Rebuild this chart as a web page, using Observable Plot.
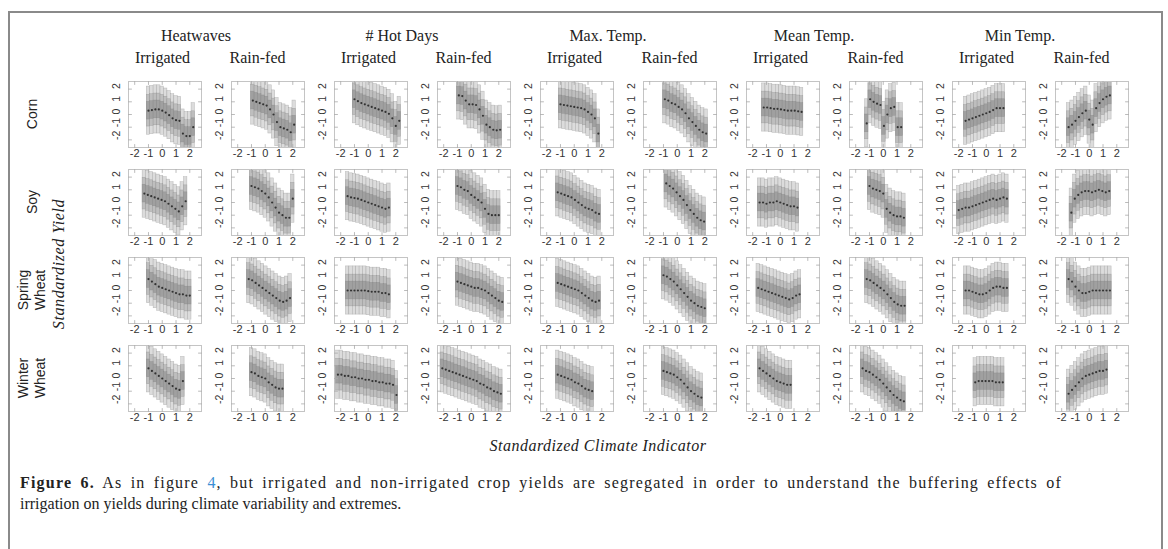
<!DOCTYPE html>
<html><head><meta charset="utf-8">
<script src="https://cdn.jsdelivr.net/npm/d3@7"></script>
<script src="https://cdn.jsdelivr.net/npm/@observablehq/plot@0.6"></script>
<style>
body{margin:0;background:#fff;}
#fig{position:relative;width:1168px;height:549px;overflow:hidden;background:#fff;}
#border{position:absolute;left:8px;top:11px;width:1155px;height:600px;border:2px solid #8a8a8a;border-bottom:none;box-sizing:border-box;}
.lab{position:absolute;white-space:nowrap;transform:translate(-50%,-50%);}
.serif{font-family:"Liberation Serif","DejaVu Serif",serif;color:#222;}
.sans{font-family:"Liberation Sans",Arial,sans-serif;color:#222;}
.rot{transform:translate(-50%,-50%) rotate(-90deg);text-align:center;}
#caption{position:absolute;left:20px;top:472px;width:1042px;font-family:"Liberation Serif",serif;font-size:16px;line-height:21px;color:#222;}
#caption .l1{text-align:justify;text-align-last:justify;white-space:nowrap;letter-spacing:1.2px;}
#caption a{color:#3b8fd4;text-decoration:none;}
#chart{position:absolute;left:0;top:0;}
</style></head>
<body><div id="fig"><div id="border"></div><div id="chart"></div></div>
<script>
const crops = ["Corn", "Soy", "Spring\nWheat", "Winter\nWheat"];
const indicators = ["Heatwaves", "# Hot Days", "Max. Temp.", "Mean Temp.", "Min Temp."];
const irrigationTypes = ["Irrigated", "Rain-fed"];
const axisTicks = [-2, -1, 0, 1, 2];
const binWidth = 0.25;
// half-widths of the nested ranges around each bin median (outer, middle, inner)
const bandHalfWidths = [1.9, 1.25, 0.7];

// first bin centre for each panel (10 panels per crop: indicator x irrigation)
const cornStart   = [-1.0, -0.9, -1.0, -0.9, -1.0, -0.9, -1.2, -1.2, -1.5, -1.5];
const soyStart    = [-1.3, -1.0, -1.5, -1.0, -1.2, -0.8, -1.5, -1.0, -2.0, -1.3];
const springStart = [-1.0, -1.2, -1.5, -1.0, -1.2, -1.0, -1.6, -1.2, -1.5, -1.5];
const winterStart = [-1.0, -1.0, -2.2, -2.1, -1.2, -1.0, -1.5, -1.5, -0.8, -1.5];

// bin medians of standardized yield
const cornMedian = [
  [0.3,0.35,0.4,0.4,0.3,0.15,-0.05,-0.3,-0.45,-0.5,-1.5,-1.7,-1.7,-1.0],
  [1.1,1.0,0.9,0.8,0.7,0.4,0.0,-0.6,-1.0,-1.1,-1.2,-1.4,-0.8],
  [1.2,1.05,0.9,0.8,0.7,0.6,0.5,0.4,0.3,0.2,0.05,-0.3,-0.9,-0.5],
  [1.5,1.45,1.1,0.8,0.8,0.75,0.4,-0.1,-0.8,-1.0,-1.2,-1.25,-1.2],
  [0.8,0.75,0.7,0.65,0.6,0.55,0.5,0.4,0.2,0.0,-0.3,-1.5],
  [1.2,1.1,0.9,0.8,0.6,0.4,0.1,-0.3,-0.6,-0.9,-1.2,-1.4,-1.5],
  [0.55,0.55,0.5,0.45,0.45,0.4,0.35,0.3,0.3,0.3,0.25,0.2],
  [-0.7,1.2,1.0,0.85,0.75,-0.9,0.0,0.5,0.6,-1.0,-1.0],
  [-0.5,-0.4,-0.3,-0.2,-0.1,0.0,0.1,0.2,0.35,0.5,0.5,0.5],
  [-1.0,-0.8,-0.5,-0.2,0.1,0.3,-0.4,-0.8,0.5,0.9,1.2,1.4,1.5]
];
const soyMedian = [
  [0.7,0.6,0.5,0.4,0.3,0.2,0.1,-0.1,-0.3,-0.5,-0.7,-0.3,0.1],
  [1.3,1.2,1.1,0.9,0.7,0.4,0.0,-0.4,-0.8,-1.0,-1.2,-1.2,0.3],
  [0.5,0.4,0.35,0.3,0.2,0.1,0.0,-0.1,-0.2,-0.3,-0.4,-0.5,-0.4],
  [1.3,1.2,1.0,0.9,0.6,0.4,0.2,0.0,-0.5,-0.9,-1.0,-1.0,-1.0],
  [0.8,0.7,0.6,0.5,0.4,0.2,0.0,-0.2,-0.4,-0.5,-0.6,-0.8,-0.9],
  [1.5,1.3,1.1,0.8,0.5,0.2,-0.2,-0.6,-0.9,-1.2,-1.4,-1.5],
  [0.0,0.0,-0.1,0.0,0.0,0.1,0.0,-0.1,-0.2,-0.3,-0.3,-0.4],
  [1.3,1.1,1.0,0.9,0.7,-0.5,-0.8,-1.0,-1.1,-1.1,-1.2],
  [-0.6,-0.5,-0.4,-0.4,-0.3,-0.2,-0.1,0.0,0.1,0.2,0.3,0.2,0.3,0.4,0.3],
  [-0.8,0.3,0.6,0.8,0.9,0.9,0.8,0.9,1.0,0.9,0.8,0.9]
];
const springMedian = [
  [0.9,0.7,0.5,0.3,0.2,0.1,0.0,-0.1,-0.2,-0.3,-0.3,-0.4,-0.4],
  [0.9,0.8,0.6,0.4,0.2,0.0,-0.2,-0.4,-0.6,-0.8,-0.9,-0.8,-0.6],
  [0.0,0.0,0.0,0.0,0.0,0.0,-0.05,-0.1,-0.1,-0.1,-0.2,-0.2,-0.3],
  [0.7,0.6,0.5,0.4,0.3,0.2,0.2,0.1,0.0,-0.2,-0.4,-0.6,-0.8,-0.9],
  [0.6,0.5,0.4,0.3,0.2,0.1,0.0,-0.2,-0.4,-0.6,-0.8,-0.9,-0.8],
  [1.2,1.1,0.9,0.7,0.4,0.1,-0.2,-0.5,-0.8,-1.0,-1.2,-1.3,-1.4],
  [0.2,0.1,0.0,-0.1,-0.2,-0.3,-0.4,-0.5,-0.6,-0.7,-0.6,-0.4,-0.3],
  [0.9,0.8,0.6,0.4,0.2,0.0,-0.3,-0.6,-0.9,-1.1,-1.2,-1.2],
  [0.0,0.0,-0.1,-0.2,-0.3,-0.3,-0.2,0.0,0.2,0.3,0.3,0.2,0.2],
  [0.9,0.7,0.3,0.0,-0.2,-0.2,-0.1,0.0,0.0,0.0,0.0,0.0,0.0]
];
const winterMedian = [
  [0.8,0.6,0.4,0.2,0.0,-0.2,-0.4,-0.6,-0.8,-0.9,-0.2],
  [0.5,0.4,0.2,0.1,0.0,-0.3,-0.5,-0.7,-0.8,-0.8],
  [0.3,0.3,0.2,0.2,0.1,0.1,0.0,0.0,-0.1,-0.1,-0.2,-0.2,-0.3,-0.3,-0.4,-0.4,-0.5,-1.3],
  [0.8,0.7,0.6,0.5,0.4,0.3,0.2,0.1,0.0,-0.1,-0.2,-0.4,-0.5,-0.7,-0.8,-1.0,-1.1,-1.2],
  [0.3,0.2,0.1,0.0,-0.1,-0.3,-0.4,-0.6,-0.8,-0.9,-1.0],
  [0.6,0.5,0.4,0.3,0.1,-0.1,-0.4,-0.7,-1.0,-1.2,-1.4,-1.5],
  [0.8,0.6,0.4,0.2,0.0,-0.2,-0.3,-0.4,-0.5,-0.5],
  [0.8,0.6,0.5,0.3,0.1,-0.1,-0.4,-0.7,-1.0,-1.3,-1.5,-1.7,-1.8],
  [-0.3,-0.2,-0.2,-0.2,-0.2,-0.2,-0.3,-0.3,-0.3],
  [-1.2,-0.9,-0.6,-0.3,0.0,0.2,0.3,0.4,0.5,0.6,0.6,0.7]
];

const starts = [cornStart, soyStart, springStart, winterStart];
const medians = [cornMedian, soyMedian, springMedian, winterMedian];
const bins = [];
medians.forEach((rowPanels, r) => rowPanels.forEach((meds, c) => meds.forEach((m, i) => {
  bins.push({row: r, col: c, x: starts[r][c] + i * binWidth, med: m});
})));

const bandFills = ["#dcdcdc", "#bebebe", "#a0a0a0"];
const bandMarks = bandHalfWidths.map((h, k) => Plot.rect(bins, {
  fx: "col", fy: "row",
  x1: d => d.x - binWidth / 2, x2: d => d.x + binWidth / 2,
  y1: d => d.med - h, y2: d => d.med + h,
  fill: bandFills[k], stroke: "#7a7a7a", strokeWidth: 0.5, strokeOpacity: 0.45, clip: true
}));

const tickFont = "Liberation Sans, Arial, sans-serif";
const tickShape = {draw(context, l) { context.moveTo(0, 0); context.lineTo(0, -l); }};
function frameTicks() {
  const o = {length: 3, shape: tickShape, anchor: "start", stroke: "#aaa", strokeWidth: 0.8};
  return [
    Plot.vector(axisTicks, {...o, x: d => d, frameAnchor: "bottom", rotate: 0}),
    Plot.vector(axisTicks, {...o, x: d => d, frameAnchor: "top", rotate: 180}),
    Plot.vector(axisTicks, {...o, y: d => d, frameAnchor: "left", rotate: 90}),
    Plot.vector(axisTicks, {...o, y: d => d, frameAnchor: "right", rotate: -90})
  ];
}
function makePlot(withTicks) {
  return Plot.plot({
    width: 1168, height: 440,
    marginLeft: 125, marginRight: 36, marginTop: 79, marginBottom: 28,
    style: {background: "transparent"},
    fx: {domain: d3.range(10), paddingInner: 0.29, paddingOuter: 0, axis: null},
    fy: {domain: d3.range(4), paddingInner: 0.25, paddingOuter: 0, axis: null},
    x: {domain: [-2.45, 2.85], axis: null},
    y: {domain: [-2.6, 2.6], axis: null},
    marks: [
      ...bandMarks,
      Plot.dot(bins, {fx: "col", fy: "row", x: "x", y: "med", r: 1.1, fill: "#333", stroke: null, clip: true}),
      Plot.frame({stroke: "#c4c4c4"}),
      ...(withTicks ? frameTicks() : []),
      Plot.text(axisTicks, {x: d => d, frameAnchor: "bottom", dy: 9, text: d => String(d),
        fontSize: 11, fill: "#333", fontFamily: tickFont}),
      Plot.text(axisTicks, {y: d => d, frameAnchor: "left", dx: -12, rotate: -90, text: d => String(d),
        fontSize: 10.5, fill: "#333", fontFamily: tickFont})
    ]
  });
}
let plot;
try { plot = makePlot(true); } catch (e) { plot = makePlot(false); }
document.getElementById("chart").appendChild(plot);

const fig = document.getElementById("fig");
function addLabel(text, x, y, cls, style) {
  const el = document.createElement("div");
  el.className = "lab " + cls;
  el.innerHTML = text;
  el.style.left = x + "px"; el.style.top = y + "px";
  Object.assign(el.style, style || {});
  fig.appendChild(el);
  return el;
}
const fx = plot.scale("fx"), fy = plot.scale("fy");
const bw = fx.bandwidth, bh = fy.bandwidth;
indicators.forEach((name, k) => {
  const left = fx.apply(2 * k), right = fx.apply(2 * k + 1) + bw;
  addLabel(name, (left + right) / 2 - 20, 36, "serif", {fontSize: "16px"});
  irrigationTypes.forEach((t, j) => {
    addLabel(t, fx.apply(2 * k + j) + bw / 2 + (j === 0 ? -2 : -10), 58, "serif", {fontSize: "16px"});
  });
});
crops.forEach((name, r) => {
  addLabel(name.replace("\n", "<br>"), 32, fy.apply(r) + bh / 2, "sans rot", {fontSize: "14px", lineHeight: "17px"});
});
addLabel("Standardized Yield", 59, (fy.apply(0) + fy.apply(3) + bh) / 2 + 18, "serif rot", {fontSize: "16px", fontStyle: "italic", letterSpacing: "0.6px"});
addLabel("Standardized Climate Indicator", (fx.apply(0) + fx.apply(9) + bw) / 2 - 30, 446, "serif", {fontSize: "16px", fontStyle: "italic", letterSpacing: "0.5px"});

const cap = document.createElement("div");
cap.id = "caption";
cap.innerHTML = '<div class="l1"><b>Figure 6.</b> As in figure <a>4</a>, but irrigated and non-irrigated crop yields are segregated in order to understand the buffering effects of</div><div>irrigation on yields during climate variability and extremes.</div>';
fig.appendChild(cap);
</script>
</body></html>
